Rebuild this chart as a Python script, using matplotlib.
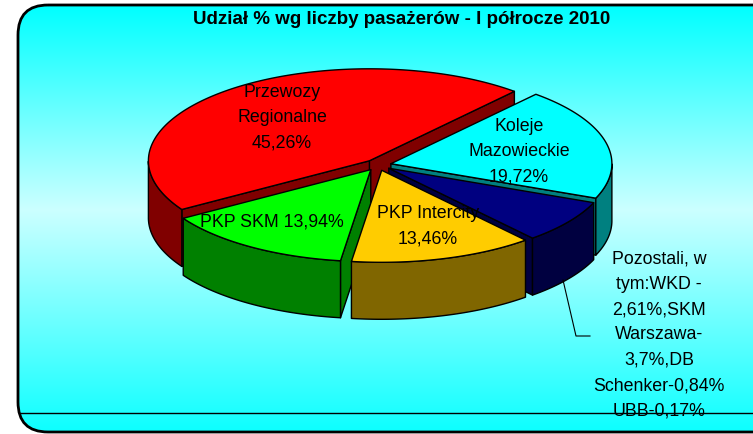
import numpy as np
import matplotlib.pyplot as plt
from matplotlib.patches import Polygon, FancyBboxPatch

plt.rcParams['font.family'] = ['Liberation Sans', 'DejaVu Sans']

# data
title = "Udział % wg liczby pasażerów - I półrocze 2010"
shares = [45.26, 13.94, 13.46, 7.62, 19.72]
labels = [
    "Przewozy\nRegionalne\n45,26%",
    "PKP SKM 13,94%",
    "PKP Intercity\n13,46%",
    "Pozostali, w\ntym:WKD -\n2,61%,SKM\nWarszawa-\n3,7%,DB\nSchenker-0,84%\nUBB-0,17%",
    "Koleje\nMazowieckie\n19,72%",
]
top_colors = ["#FF0000", "#00FF00", "#FFCC00", "#000080", "#00FFFF"]
side_colors = ["#800000", "#008000", "#806600", "#000040", "#008080"]

# layout (pixel units)
W, H = 753, 435
cx, cy = 378, 166
a, b = 221, 92
depth = 57
explode = 0.06
start = 49
label_pos = [(282, 118), (272, 222), (428, 226), (659, 335), (519, 152)]

fig = plt.figure(figsize=(W / 100, H / 100), dpi=100)
ax = fig.add_axes([0, 0, 1, 1])
ax.set_xlim(0, W)
ax.set_ylim(H, 0)
ax.axis("off")

# background frame with vertical gradient
frame = FancyBboxPatch((18, 6), 770, 427, boxstyle="round,pad=0,rounding_size=30",
                       fc="none", ec="black", lw=2, zorder=5)
ax.add_patch(frame)
t = np.linspace(0, 1, 300)
v = np.where(t < 0.48, 0.8 * t / 0.48, 0.8 - 0.75 * (t - 0.48) / 0.52)
img = np.stack([v, np.ones_like(v), np.ones_like(v)], axis=-1)[:, None, :]
im = ax.imshow(img, extent=(18, 788, 433, 6), aspect="auto", zorder=0)
im.set_clip_path(frame)
ax.plot([20, 753], [414, 414], color="black", lw=1, zorder=1)

# 3d pie
bounds = start + 360 * np.concatenate([[0], np.cumsum(shares)]) / 100.0
slices = []
for i in range(len(shares)):
    t1, t2 = np.radians(bounds[i]), np.radians(bounds[i + 1])
    mid = (t1 + t2) / 2
    slices.append((i, t1, t2, mid))
# back to front
slices.sort(key=lambda s: -abs(((np.degrees(s[3]) - 270 + 180) % 360) - 180))

for i, t1, t2, mid in slices:
    x0 = cx + explode * a * np.cos(mid)
    y0 = cy - explode * b * np.sin(mid)

    def pt(th, dz=0.0):
        return (x0 + a * np.cos(th), y0 - b * np.sin(th) + dz)

    kw = dict(ec="black", lw=1, joinstyle="round")
    # cut faces
    if np.cos(t1) > 0:
        ax.add_patch(Polygon([(x0, y0), pt(t1), pt(t1, depth), (x0, y0 + depth)],
                             fc=side_colors[i], zorder=2, **kw))
    if np.cos(t2) < 0:
        ax.add_patch(Polygon([(x0, y0), pt(t2), pt(t2, depth), (x0, y0 + depth)],
                             fc=side_colors[i], zorder=2, **kw))
    # outer wall
    th = np.linspace(t1, t2, 300)
    front = th[np.sin(th) <= 0]
    if len(front) > 1:
        top = [pt(q) for q in front]
        bot = [pt(q, depth) for q in front[::-1]]
        ax.add_patch(Polygon(top + bot, fc=side_colors[i], zorder=2, **kw))
    # top face
    ax.add_patch(Polygon([(x0, y0)] + [pt(q) for q in th], fc=top_colors[i], zorder=2, **kw))

for lab, (x, y) in zip(labels, label_pos):
    ax.text(x, y, lab, ha="center", va="center", fontsize=12.8, linespacing=1.65,
            color="black", zorder=4)

# leader line for small slice
ax.plot([563, 576, 590], [281, 337, 337], color="black", lw=0.8, zorder=3)

ax.text(402, 20, title, ha="center", va="center", fontsize=13.5, fontweight="bold", zorder=4)

fig.savefig("out.png", dpi=100)
